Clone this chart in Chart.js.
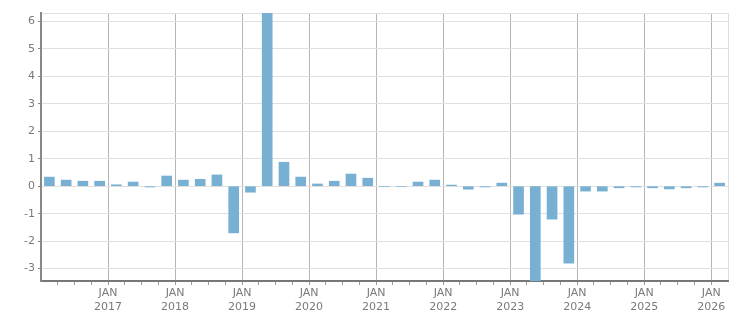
<!DOCTYPE html>
<html>
<head>
<meta charset="utf-8">
<script src="https://cdn.jsdelivr.net/npm/chart.js@4"></script>
<style>
  html, body { margin: 0; padding: 0; background: #fff; }
  #wrap { width: 751px; height: 313px; }
</style>
</head>
<body>
<div id="wrap"><canvas id="chart" width="751" height="313"></canvas></div>
<script>
// quarters from Q1 2016 to Q1 2026
var years = [2016, 2017, 2018, 2019, 2020, 2021, 2022, 2023, 2024, 2025, 2026];
var quarterLabels = [];
years.forEach(function(y) {
    ["Q1", "Q2", "Q3", "Q4"].forEach(function(q) {
        if (quarterLabels.length < 41) quarterLabels.push(q + " " + y);
    });
});

var values = [
    0.33, 0.22, 0.18, 0.18,
    0.05, 0.15, -0.03, 0.37,
    0.22, 0.25, 0.41, -1.70,
    -0.22, 6.35, 0.87, 0.33,
    0.08, 0.18, 0.44, 0.29,
    -0.02, -0.02, 0.15, 0.22,
    0.04, -0.11, -0.03, 0.11,
    -1.02, -3.60, -1.20, -2.80,
    -0.18, -0.18, -0.06, -0.03,
    -0.06, -0.10, -0.06, -0.03,
    0.11
];

var yTicks = [-3, -2, -1, 0, 1, 2, 3, 4, 5, 6];
var yMin = -3.45, yMax = 6.3;

// bar x = middle of its quarter (0 = Jan 2016)
var points = values.map(function(v, i) { return { x: i + 0.5, y: v }; });

var textColor = "#7a7a7a";

var ctx = document.getElementById("chart").getContext("2d");
var chart = new Chart(ctx, {
    type: "bar",
    data: {
        datasets: [{
            label: "Value",
            data: points,
            backgroundColor: "#78b0d3",
            barThickness: 10
        }]
    },
    options: {
        responsive: false,
        animation: false,
        layout: { padding: { top: 13, right: 23, left: 0, bottom: 0 } },
        plugins: {
            legend: { display: false },
            tooltip: { enabled: false }
        },
        scales: {
            x: {
                type: "linear",
                min: 0,
                max: 41,
                offset: false,
                afterBuildTicks: function(scale) {
                    var t = [];
                    for (var i = 1; i <= 41; i++) t.push({ value: i });
                    scale.ticks = t;
                },
                afterFit: function(scale) { scale.height = 32; },
                ticks: {
                    autoSkip: false,
                    maxRotation: 0,
                    color: textColor,
                    font: { family: "DejaVu Sans", size: 11 },
                    padding: 2,
                    callback: function(v) {
                        if (v % 4 === 0 && v < 41) return ["JAN", String(2016 + v / 4)];
                        return "";
                    }
                },
                grid: {
                    offset: false,
                    drawOnChartArea: true,
                    tickLength: 4,
                    color: function(c) {
                        var v = c.tick ? c.tick.value : null;
                        if (v === 41) return "#dedede";
                        if (v % 4 === 0) return "#b4b4b4";
                        return "rgba(0,0,0,0)";
                    },
                    tickColor: function(c) {
                        var v = c.tick ? c.tick.value : null;
                        if (v === 41) return "rgba(0,0,0,0)";
                        return "#9a9a9a";
                    }
                },
                border: { color: "#777777", width: 2 }
            },
            y: {
                min: yMin,
                max: yMax,
                afterBuildTicks: function(scale) {
                    scale.ticks = yTicks.map(function(v) { return { value: v }; }).concat([{ value: yMax }]);
                },
                afterFit: function(scale) { scale.width = 41; },
                ticks: {
                    color: textColor,
                    font: { family: "DejaVu Sans", size: 11 },
                    padding: 3,
                    callback: function(v) { return v === yMax ? "" : String(v); }
                },
                grid: {
                    tickLength: 3,
                    color: "#e0e0e0",
                    tickColor: function(c) {
                        return c.tick && c.tick.value === yMax ? "rgba(0,0,0,0)" : "#888888";
                    }
                },
                border: { color: "#888888", width: 2 }
            }
        }
    }
});
</script>
</body>
</html>
